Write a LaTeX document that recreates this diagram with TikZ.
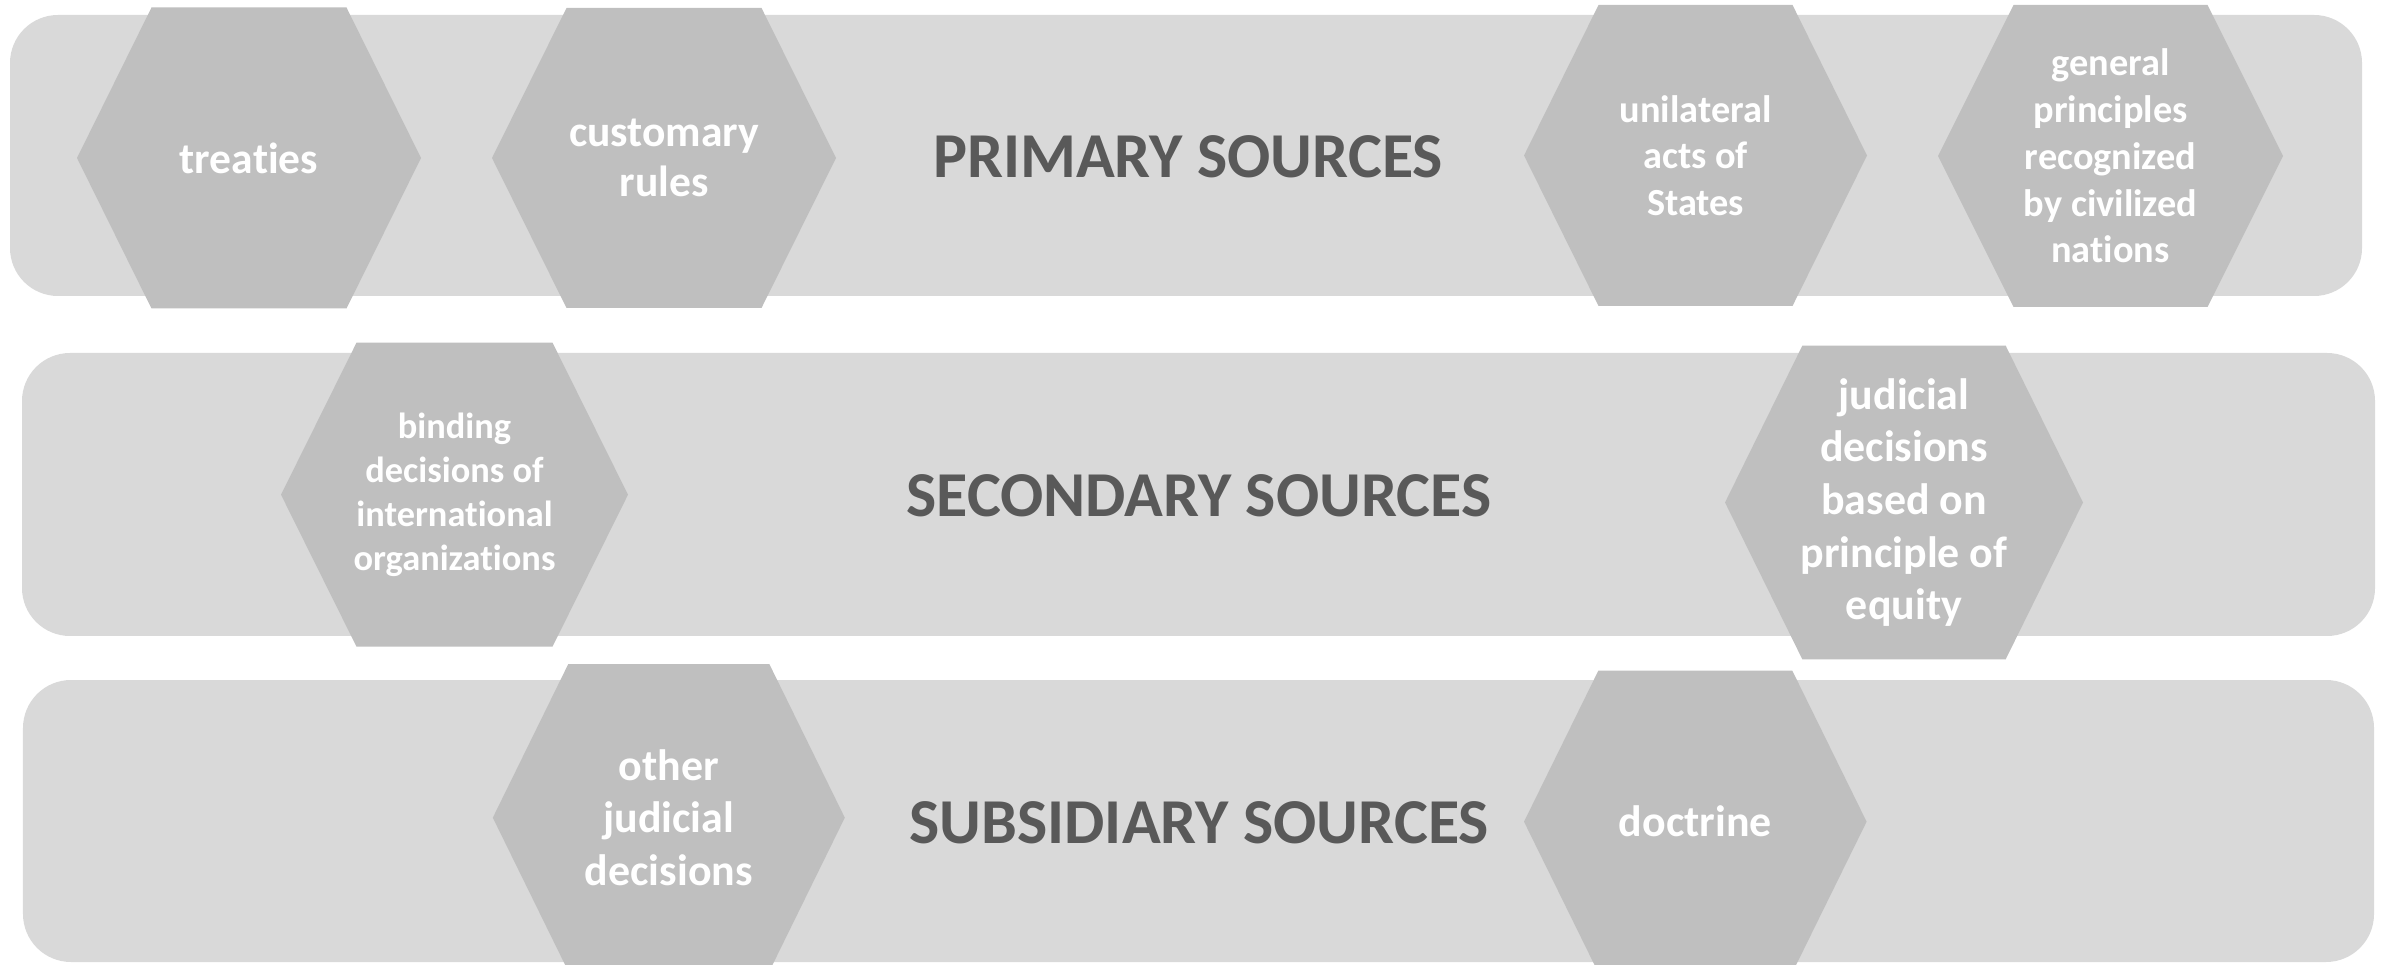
\documentclass[tikz,border=0pt]{standalone}
\usepackage{fontspec}
\setmainfont{Carlito}[Ligatures=NoCommon]
\usetikzlibrary{backgrounds, calc}
\definecolor{bandgray}{HTML}{D9D9D9}
\definecolor{hexgray}{HTML}{BFBFBF}
\definecolor{titlegray}{HTML}{595959}

% flat-topped hexagon round a node: half width, half top, half height
\newcommand{\hexat}[4]{%
  \fill[hexbg] ([xshift=-#2cm]#1.center) -- ++({#2-#3},-#4) -- ++({2*#3},0)
    -- ++({#2-#3},#4) -- ++({#3-#2},#4) -- ++({-2*#3},0) -- cycle;}

\begin{document}
\begin{tikzpicture}[
    band/.style={fill=bandgray, rounded corners=0.48cm},
    hexbg/.style={fill=hexgray},
    title/.style={font=\fontsize{18.2}{22}\selectfont\bfseries\color{titlegray}, inner sep=0pt},
    hexlabel/.style={text=white, align=center, inner sep=0pt},
    big/.style={hexlabel, font=\fontsize{12.4}{14.2}\selectfont\bfseries},
    large/.style={hexlabel, font=\fontsize{12.5}{15}\selectfont\bfseries},
    small/.style={hexlabel, font=\fontsize{10.9}{13.3}\selectfont\bfseries},
    tiny/.style={hexlabel, font=\fontsize{10.35}{12.5}\selectfont\bfseries},
  ]
    \useasboundingbox (0,0) rectangle (23.82,-9.65);

    % row titles
    \node[title] (primary) at (11.88,-1.57) {PRIMARY SOURCES};
    \node[title] (secondary) at (11.99,-4.96) {SECONDARY SOURCES};
    \node[title] (subsidiary) at (11.99,-8.23) {SUBSIDIARY SOURCES};

    % primary row
    \node[big] (treaties) at (2.49,-1.58) {treaties};
    \node[big] (custom) at (6.64,-1.58) {customary\\rules};
    \node[small] (unilateral) at (16.955,-1.555) {unilateral\\acts of\\States};
    \node[small] (principles) at (21.105,-1.56) {general\\principles\\recognized\\by civilized\\nations};

    % secondary row
    \node[tiny] (binding) at (4.545,-4.947) {binding\\decisions of\\international\\organizations};
    \node[large] (equity) at (19.04,-5.025) {judicial\\decisions\\based on\\principle of\\equity};

    % subsidiary row
    \node[large] (judicial) at (6.688,-8.177) {other\\judicial\\decisions};
    \node[large] (doctrine) at (16.953,-8.217) {doctrine};

    \begin{scope}[on background layer]
      \fill[band] (0.10,-0.15) rectangle (23.62,-2.96);
      \fill[band] (0.22,-3.53) rectangle (23.75,-6.36);
      \fill[band] (0.23,-6.80) rectangle (23.74,-9.62);

      \hexat{treaties}{1.72}{0.975}{1.505}
      \hexat{custom}{1.72}{0.975}{1.50}
      \hexat{unilateral}{1.715}{0.97}{1.505}
      \hexat{principles}{1.725}{0.97}{1.51}
      \hexat{binding}{1.735}{0.98}{1.52}
      \hexat{equity}{1.79}{1.017}{1.568}
      \hexat{judicial}{1.76}{1.005}{1.537}
      \hexat{doctrine}{1.713}{0.97}{1.51}
    \end{scope}
  \end{tikzpicture}
\end{document}
